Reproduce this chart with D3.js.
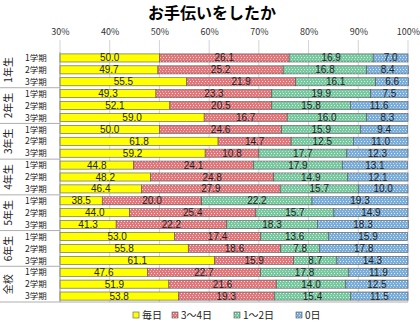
<!DOCTYPE html>
<html><head><meta charset="utf-8">
<script src="https://cdn.jsdelivr.net/npm/d3@7"></script>
<style>body{margin:0;background:#fff;font-family:"Noto Sans CJK JP",sans-serif;}</style>
</head><body><svg id="c" width="420" height="328"></svg>
<script>
const groups = ["1年生","2年生","3年生","4年生","5年生","6年生","全校"];
const terms = ["1学期","2学期","3学期"];
const seriesNames = ["毎日","3～4日","1～2日","0日"];
const everyDay = [50.0,49.7,55.5, 49.3,52.1,59.0, 50.0,61.8,59.2, 44.8,48.2,46.4, 38.5,44.0,41.3, 53.0,55.8,61.1, 47.6,51.9,53.8];
const days34  = [26.1,25.2,21.9, 23.3,20.5,16.7, 24.6,14.7,10.8, 24.1,24.8,27.9, 20.0,25.4,22.2, 17.4,18.6,15.9, 22.7,21.6,19.3];
const days12  = [16.9,16.8,16.1, 19.9,15.8,16.0, 15.9,12.5,17.7, 17.9,14.9,15.7, 22.2,15.7,18.3, 13.6,7.8,8.7, 17.8,14.0,15.4];
const days0   = [7.0,8.4,6.6, 7.5,11.6,8.3, 9.4,11.0,12.3, 13.1,12.1,10.0, 19.3,14.9,18.3, 15.9,17.8,14.3, 11.9,12.5,11.5];
const ticks = [30,40,50,60,70,80,90,100];

const svg = d3.select("#c");
const colors = ["#FFFF00","#E2777B","#77C9A0","#79AEDA"];
const defs = svg.append("defs");
colors.forEach((c,i)=>{
  if(i===0) return;
  const p = defs.append("pattern").attr("id","p"+i).attr("patternUnits","userSpaceOnUse")
    .attr("width",3).attr("height",4);
  p.append("rect").attr("width",3).attr("height",4).attr("fill",c);
  p.append("rect").attr("x",1).attr("y",1).attr("width",1).attr("height",1).attr("fill","#fff").attr("opacity",0.8);
  p.append("rect").attr("x",0).attr("y",3).attr("width",1).attr("height",1).attr("fill","#fff").attr("opacity",0.5);
});
const fills = colors.map((c,i)=> i===0 ? c : `url(#p${i})`);

const rows = [];
groups.forEach((g,gi)=>terms.forEach((t,ti)=>rows.push({g,t,key:g+t,idx:gi*3+ti})));
const x = d3.scaleLinear().domain([30,100]).range([60,408]);
const y = d3.scaleBand().domain(rows.map(r=>r.key)).range([52,302]).paddingInner(0.32).paddingOuter(0.16);
const step = y.step();

svg.append("text").attr("x",212).attr("y",19).attr("text-anchor","middle")
  .attr("font-size",16).attr("font-weight","bold").attr("fill","#000").text("お手伝いをしたか");

// grid
svg.append("g").selectAll("line").data(ticks).join("line")
  .attr("x1",d=>x(d)).attr("x2",d=>x(d)).attr("y1",40).attr("y2",302)
  .attr("stroke","#c8c8c8").attr("stroke-width",0.8);
// top axis labels
const ax = svg.append("g").attr("transform","translate(0,40)")
  .call(d3.axisTop(x).tickValues(ticks).tickFormat(d=>d+"%").tickSize(0).tickPadding(5));
ax.select(".domain").remove();
ax.selectAll("text").attr("font-size",9).attr("fill","#333").attr("font-family","Noto Sans CJK JP, sans-serif");

// stacks
const data = rows.map(r=>({key:r.key, vals:[everyDay[r.idx],days34[r.idx],days12[r.idx],days0[r.idx]]}));
const gBars = svg.append("g");
data.forEach(d=>{
  let cum = 0;
  d.vals.forEach((v,i)=>{
    const x0 = i===0 ? 30 : cum;
    const x1 = i===0 ? v : cum+v;
    cum = x1;
    gBars.append("rect").attr("x",x(x0)).attr("width",x(x1)-x(x0))
      .attr("y",y(d.key)).attr("height",y.bandwidth())
      .attr("fill",fills[i]).attr("stroke","#555").attr("stroke-width",0.6);
    gBars.append("text").attr("x",(x(x0)+x(x1))/2).attr("y",y(d.key)+y.bandwidth()/2+3.5)
      .attr("text-anchor","middle").attr("font-size",10).attr("fill","#222")
      .attr("font-family","Liberation Sans, Arial, sans-serif").text(v.toFixed(1));
  });
});

// left axis line & bottom
svg.append("line").attr("x1",60).attr("x2",60).attr("y1",52).attr("y2",302).attr("stroke","#999").attr("stroke-width",0.8);
svg.append("line").attr("x1",0).attr("x2",408).attr("y1",302).attr("y2",302).attr("stroke","#999").attr("stroke-width",0.8);
// group separators
groups.forEach((g,gi)=>{
  if(gi>0){
    const yy = 52 + gi*3*step;
    svg.append("line").attr("x1",0).attr("x2",60).attr("y1",yy).attr("y2",yy).attr("stroke","#999").attr("stroke-width",0.8);
  }
  const cy = 52 + (gi*3+1.5)*step;
  svg.append("text").attr("transform",`translate(12,${cy}) rotate(-90)`).attr("text-anchor","middle")
    .attr("font-size",10).attr("fill","#222").text(g);
});
// term labels
svg.append("g").selectAll("text").data(rows).join("text")
  .attr("x",25).attr("y",r=>y(r.key)+y.bandwidth()/2+3.2).attr("font-size",8.5).attr("fill","#222").text(r=>r.t);

// legend
const legX = [133,172,234,296];
seriesNames.forEach((s,i)=>{
  const lg = svg.append("g").attr("transform",`translate(${legX[i]},316)`);
  lg.append("rect").attr("x",0).attr("y",-4).attr("width",6).attr("height",6).attr("fill",fills[i]).attr("stroke","#555").attr("stroke-width",0.6);
  lg.append("text").attr("x",9).attr("y",3).attr("font-size",10).attr("fill","#222").text(s);
});
</script></body></html>
